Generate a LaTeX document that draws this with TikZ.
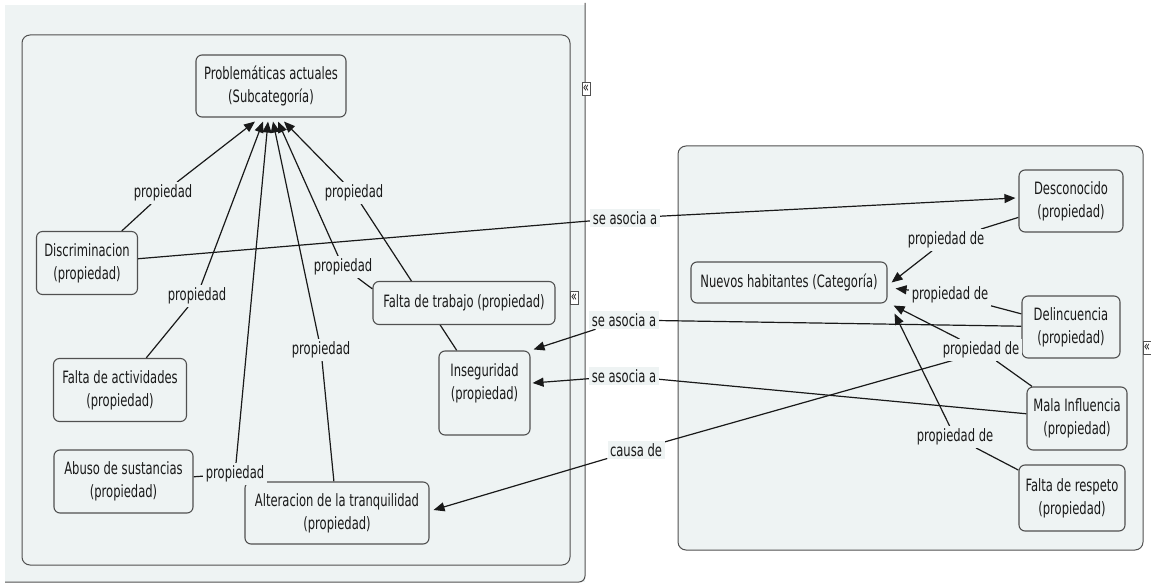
\documentclass[tikz,border=0pt]{standalone}
\usepackage{fontspec}
\setmainfont{DejaVu Sans}[FakeStretch=0.68]
\usetikzlibrary{arrows.meta,calc,positioning}
\definecolor{panel}{RGB}{238,243,243}
\definecolor{edge}{RGB}{80,80,80}
\pgfdeclarelayer{panels}
\pgfdeclarelayer{lines}
\pgfsetlayers{panels,lines,main}
\tikzset{
  >={Triangle[length=11pt,width=9pt]},
}

\begin{document}
\begin{tikzpicture}[x=1pt, y=-1pt, font=\fontsize{17}{23}\selectfont, text=black!90,
    concept/.style={draw=edge, fill=panel, rounded corners=6pt, line width=1.1pt, align=center, inner sep=2pt},
    linking/.style={fill=panel, inner sep=2.5pt},
    conn/.style={draw=black!90, line width=1.2pt},
    icon/.style={draw=edge, fill=white, inner sep=0pt, minimum width=8pt, minimum height=13pt, line width=0.7pt, font=\fontsize{15}{15}\selectfont}]
  \useasboundingbox (0,0) rectangle (1151,585);
  \begin{pgfonlayer}{panels}
    \fill[panel] (5,5) rectangle (585,582);
    \draw[edge, line width=1pt, rounded corners=6pt] (585,3) -- (585,582) -- (5,582);
    \draw[edge, fill=panel, line width=1pt, rounded corners=8pt] (22,35) rectangle (570,565);
    \draw[edge, fill=panel, line width=1pt, rounded corners=8pt] (678,146) rectangle (1143,550);
  \end{pgfonlayer}
  \node[icon] (ic1) at (586,89) {«};
  \node[icon] (ic2) at (574,298) {«};
  \node[icon] (ic3) at (1147,348) {«};
  % left panel
  \node[concept, minimum width=150pt, minimum height=62pt] (prob) at (271,86) {Problemáticas actuales\\(Subcategoría)};
  \node[concept, minimum width=101pt, minimum height=63pt] (disc) at (87,263) {Discriminacion\\(propiedad)};
  \node[concept, minimum width=182pt, minimum height=43pt] (ftrab) at (464,303) {Falta de trabajo (propiedad)};
  \node[concept, minimum width=133pt, minimum height=63pt] (fact) at (120,390) {Falta de actividades\\(propiedad)};
  \node[concept, minimum width=91pt, minimum height=84pt] (inseg) at (484.5,393) {Inseguridad\\(propiedad)\\\mbox{}};
  \node[concept, minimum width=139pt, minimum height=63pt] (abuso) at (123.5,481.5) {Abuso de sustancias\\(propiedad)};
  \node[concept, minimum width=184pt, minimum height=62pt] (alter) at (337,513) {Alteracion de la tranquilidad\\(propiedad)};
  \node[linking] (l1) at (163,193) {propiedad};
  \node[linking] (l2) at (197,296) {propiedad};
  \node[linking] (l3) at (235,474) {propiedad};
  \node[linking] (l4) at (321,350) {propiedad};
  \node[linking] (l5) at (343,267) {propiedad};
  \node[linking] (l6) at (354,193) {propiedad};
  % right panel
  \node[concept, minimum width=196pt, minimum height=41pt] (nuevos) at (789,282.5) {Nuevos habitantes (Categoría)};
  \node[concept, minimum width=104pt, minimum height=62pt] (desc) at (1071,201) {Desconocido\\(propiedad)};
  \node[concept, minimum width=98pt, minimum height=62pt] (delin) at (1071,327) {Delincuencia\\(propiedad)};
  \node[concept, minimum width=100pt, minimum height=63pt] (mala) at (1077,418.5) {Mala Influencia\\(propiedad)};
  \node[concept, minimum width=106pt, minimum height=66pt] (fresp) at (1072,498) {Falta de respeto\\(propiedad)};
  \node[linking] (p1) at (946,240) {propiedad de};
  \node[linking] (p2) at (950,295) {propiedad de};
  \node[linking] (p3) at (981,350) {propiedad de};
  \node[linking] (p4) at (955,437) {propiedad de};
  % between panels
  \node[linking] (a1) at (625,218) {se asocia a};
  \node[linking] (a2) at (624,320) {se asocia a};
  \node[linking] (a3) at (624,376) {se asocia a};
  \node[linking] (c1) at (636,450) {causa de};
  \begin{pgfonlayer}{lines}
    \draw[conn] (disc) -- (l1);
    \draw[conn, ->] (l1) -- ($(prob.south)+(-16,4)$);
    \draw[conn] (fact) -- (l2);
    \draw[conn, ->] (l2) -- ($(prob.south)+(-8,4)$);
    \draw[conn] (abuso) -- (l3);
    \draw[conn, ->] (l3) -- ($(prob.south)+(-3,4)$);
    \draw[conn] (alter) -- (l4);
    \draw[conn, ->] (l4) -- ($(prob.south)+(2,4)$);
    \draw[conn] ($(ftrab.north west)+(0,8)$) -- (l5);
    \draw[conn, ->] (l5) -- ($(prob.south)+(7,4)$);
    \draw[conn] (inseg) -- (l6);
    \draw[conn, ->] (l6) -- ($(prob.south)+(13,4)$);
    \draw[conn] (desc) -- (p1);
    \draw[conn, ->] (p1) -- ($(nuevos.east)+(4,0)$);
    \draw[conn] (delin) -- (p2);
    \draw[conn, ->] (p2) -- ($(nuevos.east)+(8,6)$);
    \draw[conn] (mala) -- (p3);
    \draw[conn, ->] (p3) -- ($(nuevos.south east)+(6,2)$);
    \draw[conn] (fresp) -- (p4);
    \draw[conn, ->] (p4) -- ($(nuevos.south east)+(7,10)$);
    \draw[conn] (disc) -- (a1);
    \draw[conn, ->] (a1) -- ($(desc.west)+(-3,-3)$);
    \draw[conn] (delin) -- (a2);
    \draw[conn, ->] (a2) -- ($(inseg.north east)+(3,-1)$);
    \draw[conn] (mala) -- (a3);
    \draw[conn, ->] (a3) -- ($(inseg.east)+(2,-10)$);
    \draw[conn] (delin) -- (c1);
    \draw[conn, ->] (c1) -- ($(alter.east)+(4,-3)$);
  \end{pgfonlayer}
\end{tikzpicture}
\end{document}
